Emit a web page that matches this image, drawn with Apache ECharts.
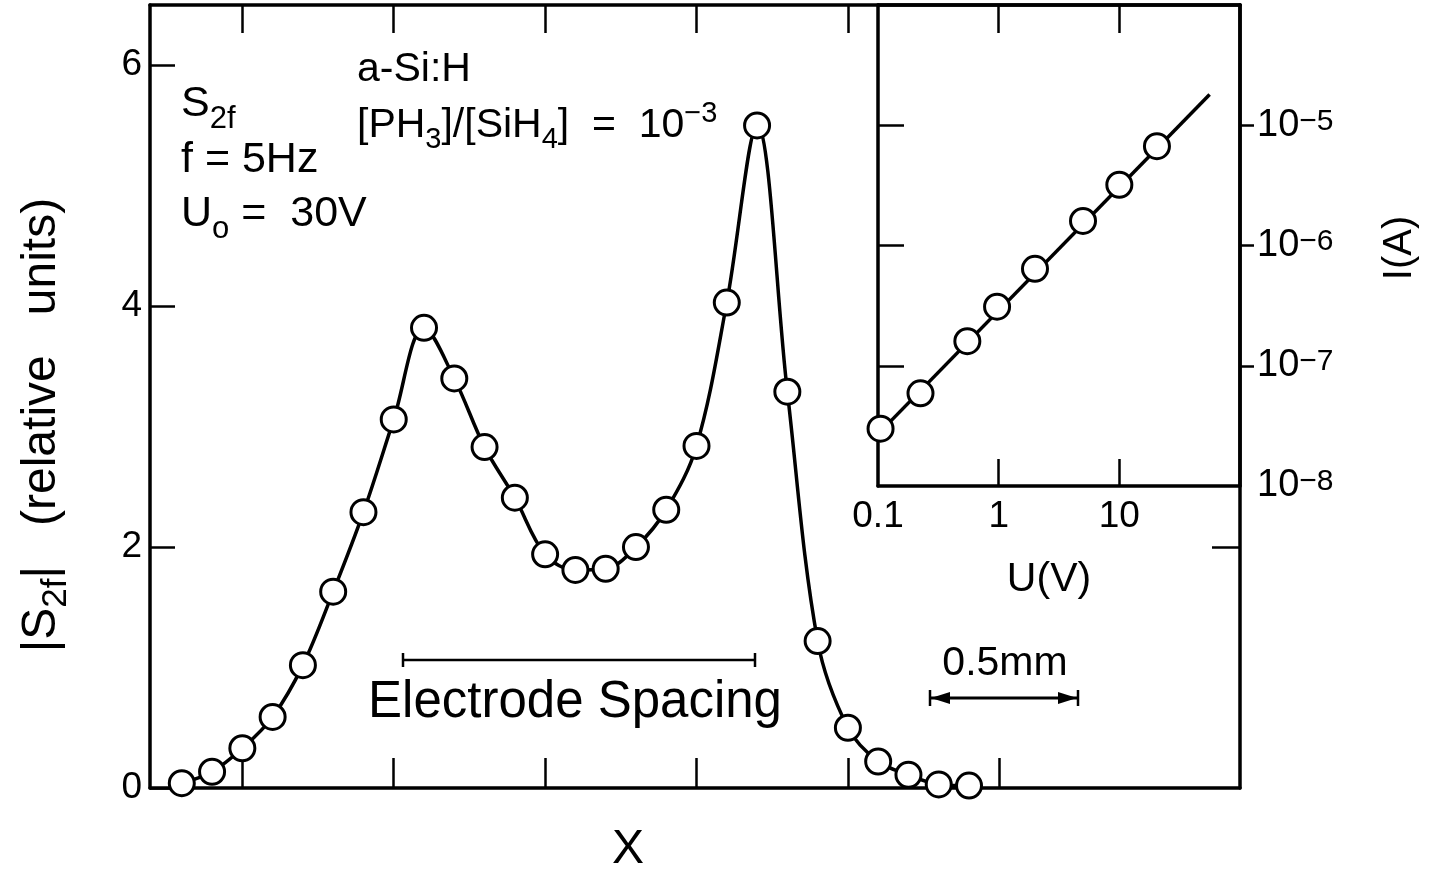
<!DOCTYPE html>
<html>
<head>
<meta charset="utf-8">
<title>S2f profile a-Si:H</title>
<script src="https://cdn.jsdelivr.net/npm/echarts@6.0.0/dist/echarts.min.js"></script>
<style>
  html, body { margin: 0; padding: 0; background: #fff; }
  #main { width: 1435px; height: 874px; }
</style>
</head>
<body>
<div id="main"></div>
<script type="text/javascript">
// main curve: position across the sample (mm) and |S2f| in relative units
var posMm = [0.3, 0.4, 0.5, 0.6, 0.7, 0.8, 0.9, 1.0, 1.1, 1.2, 1.3, 1.4, 1.5, 1.6,
             1.7, 1.8, 1.9, 2.0, 2.1, 2.2, 2.3, 2.4, 2.5, 2.6, 2.7, 2.8, 2.9];
var s2f = [0.04, 0.135, 0.33, 0.59, 1.02, 1.63, 2.29, 3.06, 3.82, 3.40, 2.83, 2.41, 1.94, 1.81,
           1.82, 2.00, 2.31, 2.84, 4.03, 5.50, 3.29, 1.22, 0.50, 0.22, 0.11, 0.03, 0.02];

// inset: I(U) on log-log
var biasV = [0.105, 0.225, 0.55, 0.97, 2.0, 5.0, 10, 20.5];
var currentA = [3.0e-8, 5.9e-8, 1.6e-7, 3.1e-7, 6.4e-7, 1.6e-6, 3.2e-6, 6.7e-6];
var fitV = [0.1, 56];
var fitA = [2.7e-8, 1.8e-5];

// tick positions
var xTicksBottom = [0.5, 1.0, 1.5, 2.0, 2.5, 3.0];
var xTicksTop = [0.5, 1.0, 1.5, 2.0, 2.5];
var yTicks = [0, 2, 4, 6];
var insetXTicks = [0, 1];          // log10(U): 1, 10
var insetXLabels = [-1, 0, 1];     // 0.1, 1, 10
var insetYTicks = [-7, -6, -5];
var insetYLabels = [-8, -7, -6, -5];

var FONT = "'Liberation Sans', Arial, Helvetica, sans-serif";
var black = '#000';

function lg(v) { return Math.log10(v); }

var mainData = posMm.map(function (x, i) { return [x, s2f[i]]; });
var insetPts = biasV.map(function (u, i) { return [lg(u), lg(currentA[i])]; });
var insetFit = fitV.map(function (u, i) { return [lg(u), lg(fitA[i])]; });

function axisBase(extra) {
    var a = {
        type: 'value',
        axisLine: { show: true, onZero: false, lineStyle: { color: black, width: 3.5 } },
        axisTick: { show: true, inside: true, length: 27, lineStyle: { color: black, width: 2.5 } },
        axisLabel: { show: false },
        splitLine: { show: false }
    };
    for (var k in extra) a[k] = extra[k];
    return a;
}

var myChart = echarts.init(document.getElementById('main'), null, { renderer: 'canvas' });

var subRich = { fontSize: 31, fontFamily: FONT, fill: black, verticalAlign: 'bottom', padding: [0, 0, -9, 0] };

var option = {
    backgroundColor: '#fff',
    animation: false,
    textStyle: { fontFamily: FONT, color: black },
    grid: [
        { left: 150, top: 5, right: 195, bottom: 86, outerBoundsMode: 'none' },
        { left: 878, top: 5, right: 195, bottom: 388, outerBoundsMode: 'none' }
    ],
    xAxis: [
        axisBase({ gridIndex: 0, position: 'bottom', min: 0.195, max: 3.795,
            axisTick: { show: true, inside: true, length: 30, customValues: xTicksBottom,
                        lineStyle: { color: black, width: 2.5 } } }),
        axisBase({ gridIndex: 0, position: 'top', min: 0.195, max: 3.795,
            axisTick: { show: true, inside: true, length: 28, customValues: xTicksTop,
                        lineStyle: { color: black, width: 2.5 } } }),
        axisBase({ gridIndex: 1, position: 'bottom', min: -1, max: 2,
            axisTick: { show: true, inside: true, length: 27, customValues: insetXTicks,
                        lineStyle: { color: black, width: 2.5 } },
            axisLabel: { show: true, margin: 12, fontSize: 37, fontFamily: FONT, color: black,
                customValues: insetXLabels,
                formatter: function (v) { return v < -0.5 ? '0.1' : String(Math.round(Math.pow(10, v))); } } }),
        axisBase({ gridIndex: 1, position: 'top', min: -1, max: 2,
            axisTick: { show: true, inside: true, length: 28, customValues: insetXTicks,
                        lineStyle: { color: black, width: 2.5 } } })
    ],
    yAxis: [
        axisBase({ gridIndex: 0, position: 'left', min: 0, max: 6.5,
            axisTick: { show: true, inside: true, length: 25, customValues: yTicks,
                        lineStyle: { color: black, width: 2.5 } },
            axisLabel: { show: true, margin: 8, fontSize: 37, fontFamily: FONT, color: black,
                customValues: yTicks } }),
        axisBase({ gridIndex: 0, position: 'right', min: 0, max: 6.5,
            axisTick: { show: true, inside: true, length: 28, customValues: [2],
                        lineStyle: { color: black, width: 2.5 } } }),
        axisBase({ gridIndex: 1, position: 'left', min: -8, max: -4,
            axisTick: { show: true, inside: true, length: 26, customValues: insetYTicks,
                        lineStyle: { color: black, width: 2.5 } } }),
        axisBase({ gridIndex: 1, position: 'right', min: -8, max: -4,
            axisTick: { show: true, inside: false, length: 14, customValues: insetYTicks,
                        lineStyle: { color: black, width: 2.5 } },
            axisLabel: { show: true, margin: 17, customValues: insetYLabels,
                formatter: function (v) { return '{b|10}{s|\u2212' + (-v) + '}'; },
                rich: {
                    b: { fontSize: 38, fontFamily: FONT, color: black, lineHeight: 38 },
                    s: { fontSize: 30, fontFamily: FONT, color: black, verticalAlign: 'top', lineHeight: 30 }
                } } })
    ],
    series: [
        {
            type: 'line', xAxisIndex: 0, yAxisIndex: 0,
            data: mainData, smooth: 0.35,
            symbol: 'circle', symbolSize: 25,
            lineStyle: { color: black, width: 3.5 },
            itemStyle: { color: '#fff', borderColor: black, borderWidth: 3 },
            z: 3
        },
        {
            type: 'line', xAxisIndex: 2, yAxisIndex: 2,
            data: insetFit, symbol: 'none',
            lineStyle: { color: black, width: 3.5 },
            z: 3
        },
        {
            type: 'scatter', xAxisIndex: 2, yAxisIndex: 2,
            data: insetPts, symbol: 'circle', symbolSize: 25,
            itemStyle: { color: '#fff', borderColor: black, borderWidth: 3, opacity: 1 },
            z: 4
        }
    ],
    graphic: [
        // axis titles
        { type: 'text', x: 42, y: 425, rotation: Math.PI / 2, z: 10,
          style: { text: '|S{sub|2f}|   (relative   units)', fontSize: 48, fontFamily: FONT, fill: black,
                   align: 'center', verticalAlign: 'middle',
                   rich: { sub: { fontSize: 35, fontFamily: FONT, fill: black, verticalAlign: 'bottom', padding: [0, 0, -8, 0] } } } },
        { type: 'text', x: 628, y: 850, z: 10,
          style: { text: 'X', fontSize: 48, fontFamily: FONT, fill: black, align: 'center', verticalAlign: 'middle' } },
        { type: 'text', x: 1049, y: 580, z: 10,
          style: { text: 'U(V)', fontSize: 41, fontFamily: FONT, fill: black, align: 'center', verticalAlign: 'middle' } },
        { type: 'text', x: 1400, y: 248, rotation: Math.PI / 2, z: 10,
          style: { text: 'I(A)', fontSize: 40, fontFamily: FONT, fill: black, align: 'center', verticalAlign: 'middle' } },

        // sample description
        { type: 'text', x: 181, y: 104, z: 10,
          style: { text: 'S{sub|2f}', fontSize: 43, fontFamily: FONT, fill: black, align: 'left', verticalAlign: 'middle',
                   rich: { sub: subRich } } },
        { type: 'text', x: 181, y: 160, z: 10,
          style: { text: 'f = 5Hz', fontSize: 43, fontFamily: FONT, fill: black, align: 'left', verticalAlign: 'middle' } },
        { type: 'text', x: 181, y: 214, z: 10,
          style: { text: 'U{sub|o} =  30V', fontSize: 43, fontFamily: FONT, fill: black, align: 'left', verticalAlign: 'middle',
                   rich: { sub: subRich } } },
        { type: 'text', x: 357, y: 70, z: 10,
          style: { text: 'a-Si:H', fontSize: 41, fontFamily: FONT, fill: black, align: 'left', verticalAlign: 'middle' } },
        { type: 'text', x: 357, y: 126, z: 10,
          style: { text: '[PH{sub|3}]/[SiH{sub|4}]  =  10{sup|\u22123}', fontSize: 41, fontFamily: FONT, fill: black,
                   align: 'left', verticalAlign: 'middle',
                   rich: {
                       sub: { fontSize: 29, fontFamily: FONT, fill: black, verticalAlign: 'bottom', padding: [0, 0, -8, 0] },
                       sup: { fontSize: 29, fontFamily: FONT, fill: black, verticalAlign: 'top', padding: [-6, 0, 0, 0] }
                   } } },

        // electrode spacing bar
        { type: 'line', z: 10, shape: { x1: 403, y1: 660, x2: 755, y2: 660 }, style: { stroke: black, lineWidth: 2.5 } },
        { type: 'line', z: 10, shape: { x1: 403, y1: 653, x2: 403, y2: 667 }, style: { stroke: black, lineWidth: 2.5 } },
        { type: 'line', z: 10, shape: { x1: 755, y1: 653, x2: 755, y2: 667 }, style: { stroke: black, lineWidth: 2.5 } },
        { type: 'text', x: 575, y: 703, z: 10,
          style: { text: 'Electrode Spacing', fontSize: 51, fontFamily: FONT, fill: black, align: 'center', verticalAlign: 'middle' } },

        // 0.5mm scale arrow
        { type: 'text', x: 1005, y: 664, z: 10,
          style: { text: '0.5mm', fontSize: 41, fontFamily: FONT, fill: black, align: 'center', verticalAlign: 'middle' } },
        { type: 'line', z: 10, shape: { x1: 930, y1: 698, x2: 1078, y2: 698 }, style: { stroke: black, lineWidth: 3 } },
        { type: 'line', z: 10, shape: { x1: 930, y1: 690, x2: 930, y2: 706 }, style: { stroke: black, lineWidth: 2.5 } },
        { type: 'line', z: 10, shape: { x1: 1078, y1: 690, x2: 1078, y2: 706 }, style: { stroke: black, lineWidth: 2.5 } },
        { type: 'polygon', z: 10, shape: { points: [[931, 698], [950, 692], [950, 704]] }, style: { fill: black } },
        { type: 'polygon', z: 10, shape: { points: [[1077, 698], [1058, 692], [1058, 704]] }, style: { fill: black } }
    ]
};

myChart.setOption(option);
</script>
</body>
</html>
